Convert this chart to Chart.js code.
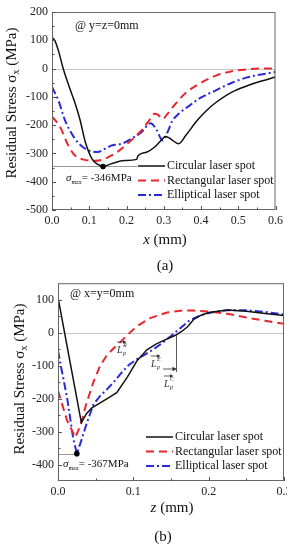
<!DOCTYPE html>
<html>
<head>
<meta charset="utf-8">
<script src="https://cdn.jsdelivr.net/npm/chart.js@4.4.1/dist/chart.umd.min.js"></script>
<style>
  html, body { margin: 0; padding: 0; background: #fff; overflow: hidden; }
  #wrap { position: relative; width: 287px; height: 546px; overflow: hidden; }
  #chartA { position: absolute; left: 0; top: 0; }
  #chartB { position: absolute; left: 0; top: 272px; }
</style>
</head>
<body>
<div id="wrap">
  <canvas id="chartA" width="287" height="280" style="width:287px;height:280px"></canvas>
  <canvas id="chartB" width="300" height="274" style="width:300px;height:274px"></canvas>
</div>
<script>
const seriesNames = ['Circular laser spot', 'Rectangular laser spot', 'Elliptical laser spot'];

// (a) stress along x, at y=z=0
const aCircX = [0, 0.008, 0.018, 0.03, 0.045, 0.06, 0.075, 0.09, 0.107, 0.122, 0.137, 0.16, 0.195, 0.227, 0.231, 0.255, 0.275, 0.29, 0.305, 0.32, 0.34, 0.36, 0.39, 0.415, 0.44, 0.483, 0.528, 0.56, 0.6];
const aCircY = [110, 98, 60, 0, -60, -115, -180, -262, -318, -338, -346, -336, -325, -321, -308, -295, -278, -258, -240, -250, -266, -235, -183, -148, -120, -83, -59, -45, -30];
const aRectX = [0, 0.012, 0.025, 0.04, 0.06, 0.085, 0.115, 0.14, 0.16, 0.18, 0.2, 0.22, 0.24, 0.26, 0.275, 0.285, 0.297, 0.31, 0.33, 0.36, 0.4, 0.44, 0.48, 0.52, 0.56, 0.6];
const aRectY = [-170, -188, -215, -262, -305, -322, -326, -320, -307, -290, -268, -245, -219, -185, -160, -164, -178, -160, -127, -85, -50, -25, -10, -3, 0, 0];
const aEllX = [0, 0.017, 0.035, 0.06, 0.08, 0.1, 0.123, 0.14, 0.16, 0.187, 0.213, 0.24, 0.265, 0.28, 0.297, 0.31, 0.323, 0.34, 0.37, 0.395, 0.44, 0.483, 0.528, 0.6];
const aEllY = [-65, -112, -183, -245, -275, -290, -295, -285, -272, -266, -248, -225, -193, -215, -254, -225, -185, -160, -130, -106, -77, -50, -30, -12];
const aXTicks = [0, 0.1, 0.2, 0.3, 0.4, 0.5, 0.6];
const aYTicks = [200, 100, 0, -100, -200, -300, -400, -500];

// (b) stress along depth z, at x=y=0
const bCircX = [0, 0.031, 0.038, 0.045, 0.056, 0.068, 0.078, 0.092, 0.105, 0.118, 0.13, 0.142, 0.156, 0.165, 0.172, 0.18, 0.19, 0.2, 0.225, 0.25, 0.275, 0.3];
const bCircY = [107, -273, -245, -228, -213, -196, -182, -135, -85, -52, -35, -22, -8, 5, 18, 40, 53, 61, 69, 65, 58, 52];
const bRectX = [0, 0.012, 0.023, 0.03, 0.037, 0.047, 0.056, 0.065, 0.075, 0.083, 0.093, 0.105, 0.123, 0.145, 0.165, 0.18, 0.2, 0.225, 0.25, 0.275, 0.3];
const bRectY = [-176, -266, -318, -280, -220, -150, -100, -68, -45, -28, -5, 20, 45, 61, 67, 67, 64, 57, 46, 36, 27];
const bEllX = [0, 0.005, 0.012, 0.02, 0.025, 0.032, 0.038, 0.047, 0.056, 0.065, 0.074, 0.083, 0.094, 0.105, 0.116, 0.127, 0.138, 0.15, 0.163, 0.175, 0.19, 0.205, 0.225, 0.25, 0.275, 0.3];
const bEllY = [-55, -115, -196, -318, -367, -320, -276, -218, -192, -172, -150, -125, -98, -80, -66, -50, -32, -10, 15, 38, 53, 62, 68, 68, 63, 55];
const bXTicks = [0, 0.1, 0.2, 0.3];
const bYTicks = [100, 0, -100, -200, -300, -400];
const bLpC = 0.157; // depth where the circular spot curve turns tensile

const SERIF = "'Liberation Serif', 'Times New Roman', serif";
const RED = '#e8262d';
const BLUE = '#2a2ad6';

function fnt(size, style) {
  return (style ? style + ' ' : '') + size + 'px ' + SERIF;
}

function drawRuns(ctx, x, y, runs) {
  runs.forEach(r => {
    ctx.font = r.font;
    ctx.fillText(r.text, x, y + (r.dy || 0));
    x += ctx.measureText(r.text).width;
  });
  return x;
}

function runsWidth(ctx, runs) {
  let w = 0;
  runs.forEach(r => { ctx.font = r.font; w += ctx.measureText(r.text).width; });
  return w;
}

function arrow(ctx, x1, y, x2, head) {
  ctx.beginPath(); ctx.moveTo(x1, y); ctx.lineTo(x2, y); ctx.stroke();
  ctx.beginPath();
  ctx.moveTo(x2, y);
  ctx.lineTo(x2 - head, y - head * 0.55);
  ctx.lineTo(x2 - head, y + head * 0.55);
  ctx.closePath(); ctx.fill();
}

function drawLp(ctx, x, y, sup) {
  ctx.font = fnt(10, 'italic'); ctx.fillText('L', x, y);
  ctx.font = fnt(6, 'italic'); ctx.fillText('p', x + 6, y + 2);
  ctx.fillText(sup, x + 6, y - 6);
  arrow(ctx, x, y - 11, x + 9, 3);
}

function series(xs, ys, color, dash, width, dotIdx) {
  return {
    data: xs.map((x, i) => ({ x: x, y: ys[i] })),
    borderColor: color,
    borderDash: dash,
    borderWidth: width,
    pointRadius: ctx => ctx.dataIndex === dotIdx ? 2.8 : 0,
    pointBackgroundColor: '#000',
    pointBorderColor: '#000',
    pointBorderWidth: 0,
    fill: false
  };
}

// zero line, peak line, frame, inward ticks, legend, titles
const extras = {
  id: 'extras',
  beforeDatasetsDraw(chart, args, o) {
    const { ctx, chartArea: a, scales: { x, y } } = chart;
    ctx.save();
    ctx.lineWidth = 1;
    ctx.strokeStyle = '#c8c8c8';
    const y0 = Math.round(y.getPixelForValue(0)) + 0.5;
    ctx.beginPath(); ctx.moveTo(a.left, y0); ctx.lineTo(a.right, y0); ctx.stroke();
    ctx.strokeStyle = '#999';
    const yp = Math.round(y.getPixelForValue(o.peak)) + 0.5;
    ctx.beginPath(); ctx.moveTo(a.left, yp); ctx.lineTo(x.getPixelForValue(o.peakLineTo), yp); ctx.stroke();
    ctx.restore();
  },
  afterDraw(chart, args, o) {
    const { ctx, chartArea: a, scales: { x, y } } = chart;
    ctx.save();
    ctx.strokeStyle = '#666';
    ctx.lineWidth = 1;
    ctx.strokeRect(a.left + 0.5, a.top + 0.5, a.right - a.left - 1, a.bottom - a.top - 1);

    // inward ticks, major and minor
    ctx.strokeStyle = '#555';
    const xt = o.xTicks, yt = o.yTicks;
    ctx.beginPath();
    xt.forEach(v => { const p = Math.round(x.getPixelForValue(v)) + 0.5; ctx.moveTo(p, a.bottom); ctx.lineTo(p, a.bottom - 4); });
    xt.slice(1).forEach((v, i) => { const p = Math.round(x.getPixelForValue((v + xt[i]) / 2)) + 0.5; ctx.moveTo(p, a.bottom); ctx.lineTo(p, a.bottom - 2.5); });
    yt.forEach(v => { const p = Math.round(y.getPixelForValue(v)) + 0.5; ctx.moveTo(a.left, p); ctx.lineTo(a.left + 4, p); });
    yt.slice(1).forEach((v, i) => { const p = Math.round(y.getPixelForValue((v + yt[i]) / 2)) + 0.5; ctx.moveTo(a.left, p); ctx.lineTo(a.left + 2.5, p); });
    ctx.stroke();

    // legend
    ctx.textBaseline = 'middle';
    ctx.fillStyle = '#111';
    chart.data.datasets.forEach((ds, i) => {
      const ly = o.legend.y + i * o.legend.dy;
      ctx.save();
      ctx.strokeStyle = ds.borderColor;
      ctx.lineWidth = ds.borderWidth;
      ctx.setLineDash(ds.borderDash || []);
      ctx.beginPath(); ctx.moveTo(o.legend.x1, ly); ctx.lineTo(o.legend.x2, ly); ctx.stroke();
      ctx.restore();
      ctx.font = fnt(12);
      ctx.fillText(ds.label, o.legend.x2 + 2, ly);
    });

    // position note and peak value
    ctx.textBaseline = 'alphabetic';
    ctx.font = fnt(12);
    ctx.fillText(o.note, o.notePos[0], o.notePos[1]);
    drawRuns(ctx, o.peakPos[0], o.peakPos[1], [
      { text: 'σ', font: fnt(11, 'italic') },
      { text: 'max', font: fnt(6), dy: 3 },
      { text: '= ' + o.peak + 'MPa', font: fnt(11) }
    ]);

    // axis titles
    ctx.textBaseline = 'middle';
    const xr = [{ text: o.xVar, font: fnt(15, 'italic') }, { text: ' (mm)', font: fnt(15) }];
    drawRuns(ctx, o.xTitle[0] - runsWidth(ctx, xr) / 2, o.xTitle[1], xr);
    const yr = [
      { text: 'Residual Stress σ', font: fnt(15) },
      { text: 'x', font: fnt(10), dy: 4 },
      { text: ' (MPa)', font: fnt(15) }
    ];
    ctx.save();
    ctx.translate(o.yTitle[0], o.yTitle[1]);
    ctx.rotate(-Math.PI / 2);
    drawRuns(ctx, -runsWidth(ctx, yr) / 2, 0, yr);
    ctx.restore();
    ctx.font = fnt(15);
    ctx.textAlign = 'center';
    ctx.fillText(o.panel, o.panelPos[0], o.panelPos[1]);
    ctx.restore();

    if (o.more) o.more(chart);
  }
};

function drawLengthMarks(chart) {
  const { ctx, scales: { x, y } } = chart;
  ctx.save();
  ctx.strokeStyle = '#333';
  ctx.fillStyle = '#333';
  ctx.lineWidth = 0.8;
  const vx = Math.round(x.getPixelForValue(bLpC)) + 0.5;
  ctx.beginPath(); ctx.moveTo(vx, y.getPixelForValue(-6)); ctx.lineTo(vx, 100); ctx.stroke();
  arrow(ctx, 163, 97, vx, 4);
  ctx.textBaseline = 'alphabetic';
  drawLp(ctx, 117, 81, 'R');
  drawLp(ctx, 151, 95, 'E');
  drawLp(ctx, 164, 115, 'C');
  ctx.restore();
}

function makeChart(id, sets, xr, yr, xTicks, yTicks, yWidth, xHeight, pad, plug) {
  return new Chart(document.getElementById(id), {
    type: 'line',
    data: { datasets: sets },
    options: {
      responsive: false,
      animation: false,
      layout: { padding: pad },
      plugins: { legend: { display: false }, tooltip: { enabled: false }, extras: plug },
      elements: { line: { cubicInterpolationMode: 'monotone' } },
      scales: {
        x: {
          type: 'linear', min: xr[0], max: xr[1],
          afterBuildTicks: s => { s.ticks = xTicks.map(v => ({ value: v })); },
          afterFit: s => { s.height = xHeight; },
          grid: { display: false, drawTicks: false },
          border: { display: false },
          ticks: { autoSkip: false, maxRotation: 0, padding: 4, color: '#222', font: { family: SERIF, size: 12 }, callback: v => v.toFixed(1) }
        },
        y: {
          type: 'linear', min: yr[0], max: yr[1],
          afterBuildTicks: s => { s.ticks = yTicks.map(v => ({ value: v })); },
          afterFit: s => { s.width = yWidth; },
          grid: { display: false, drawTicks: false },
          border: { display: false },
          ticks: { autoSkip: false, padding: 4, color: '#222', font: { family: SERIF, size: 12 }, callback: v => String(v) }
        }
      }
    },
    plugins: [extras]
  });
}

const aPeak = Math.min(...aCircY);
const setsA = [
  series(aCircX, aCircY, '#111', [], 1.5, aCircY.indexOf(aPeak)),
  series(aRectX, aRectY, RED, [8, 5], 2),
  series(aEllX, aEllY, BLUE, [8, 3, 2, 3], 2)
];
setsA.forEach((s, i) => { s.label = seriesNames[i]; });
makeChart('chartA', setsA, [0, 0.6], [-500, 200], aXTicks, aYTicks, 52, 70,
  { left: 0, top: 12, right: 10, bottom: 0 },
  {
    xTicks: aXTicks, yTicks: aYTicks,
    peak: aPeak, peakLineTo: 0.229,
    legend: { x1: 138, x2: 165, y: 166, dy: 14.5 },
    note: '@ y=z=0mm', notePos: [75, 29],
    peakPos: [66, 181],
    xVar: 'x', xTitle: [165, 240],
    yTitle: [12, 103],
    panel: '(a)', panelPos: [165, 266]
  });

const bPeak = Math.min(...bEllY);
const setsB = [
  series(bCircX, bCircY, '#111', [], 1.5),
  series(bRectX, bRectY, RED, [8, 5], 2),
  series(bEllX, bEllY, BLUE, [8, 3, 2, 3], 2, bEllY.indexOf(bPeak))
];
setsB.forEach((s, i) => { s.label = seriesNames[i]; s.tension = 0; s.cubicInterpolationMode = 'default'; });
makeChart('chartB', setsB, [0, 0.3], [-450, 150], bXTicks, bYTicks, 58, 65,
  { left: 0, top: 11, right: 16, bottom: 0 },
  {
    xTicks: bXTicks, yTicks: bYTicks,
    peak: bPeak, peakLineTo: bEllX[bEllY.indexOf(bPeak)],
    legend: { x1: 146, x2: 173, y: 165, dy: 14.5 },
    note: '@ x=y=0mm', notePos: [70, 25],
    peakPos: [63, 195],
    xVar: 'z', xTitle: [172, 236],
    yTitle: [20, 107],
    panel: '(b)', panelPos: [163, 265],
    more: drawLengthMarks
  });
</script>
</body>
</html>
